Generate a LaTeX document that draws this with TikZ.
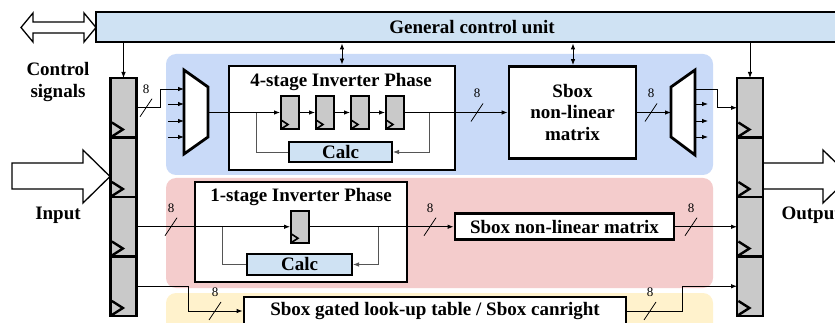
\documentclass[tikz,border=0pt]{standalone}
\usepackage{fontspec}
\setmainfont{Liberation Serif}
\usetikzlibrary{arrows.meta,calc}
\definecolor{gcufill}{HTML}{CFE2F3}
\definecolor{bluebg}{HTML}{C9DAF8}
\definecolor{pinkbg}{HTML}{F4CCCC}
\definecolor{yellowbg}{HTML}{FFF2CC}
\definecolor{reggray}{HTML}{C9C9C9}
\definecolor{fbgray}{HTML}{555555}
\tikzset{
  bigfont/.style={font=\bfseries\fontsize{19}{21.5}\selectfont},
  busfont/.style={font=\fontsize{13}{14}\selectfont},
  blk/.style={draw, line width=2.8pt, fill=white, inner sep=0pt, bigfont},
  muxshape/.style={draw, line width=2.8pt, fill=white, line join=miter},
  regcol/.style={draw, line width=2.8pt, fill=reggray, minimum width=26pt, minimum height=59.5pt, inner sep=0pt, outer sep=0pt},
  sreg/.style={draw, line width=2pt, fill=reggray, minimum width=18pt, minimum height=33pt, inner sep=0pt},
  calcbox/.style={draw, line width=2pt, fill=gcufill, minimum height=20pt, inner sep=0pt, bigfont},
  tip/.style={-{Latex[length=6pt,width=4.5pt]}},
  wire/.style={line width=0.8pt},
  conn/.style={wire, tip},
  fb/.style={line width=0.8pt, draw=fbgray},
  hollow/.style={draw, line width=1.3pt, fill=white, line join=miter},
  clk/.style={line width=2.4pt, line join=miter},
  sclk/.style={line width=1.6pt, line join=miter},
  pics/bus8/.style={code={
    \draw[line width=0.8pt] (-6,9) -- (6,-9);
    \node[busfont] at (0,-19) {8};
  }},
}
\begin{document}
\begin{tikzpicture}[x=1pt,y=-1pt]
\clip (0,0) rectangle (835,323);
\fill[white] (0,0) rectangle (835,323);
% background bands
\fill[bluebg, rounded corners=10pt] (166,54) rectangle (713,175);
\fill[pinkbg, rounded corners=10pt] (166,178) rectangle (713,288);
\fill[yellowbg, rounded corners=10pt] (166,293) rectangle (713,345);

% general control unit
\node[blk, fill=gcufill, minimum width=752pt, minimum height=30pt] (gcu) at (472,27) {General control unit};
\draw[hollow] (21,27.5) -- (33,13) -- (33,22) -- (84,22) -- (84,13) -- (96,27.5) -- (84,42) -- (84,33) -- (33,33) -- (33,42) -- cycle;

% register columns
\foreach \i/\y in {1/107.75,2/167.25,3/226.75,4/286.25}{
  \node[regcol] (L\i) at (123.5,\y) {};
  \node[regcol] (R\i) at (750,\y) {};
}
\foreach \i in {1,...,4}{
  \draw[clk] ($(L\i.south west)+(1.4,-15)$) -- ++(11,7) -- ++(-11,7);
  \draw[clk] ($(R\i.south west)+(1.4,-15)$) -- ++(11,7) -- ++(-11,7);
}
\draw[conn] (gcu.south -| L1.north) -- (L1.north);
\draw[conn] (gcu.south -| R1.north) -- (R1.north);

% input / output arrows and labels
\draw[hollow] (12,163) -- (83,163) -- (83,150) -- (110,176.5) -- (83,203) -- (83,189) -- (12,189) -- cycle;
\draw[hollow] (764,163) -- (823,163) -- (823,150) -- (850,176.5) -- (823,203) -- (823,189) -- (764,189);
\node[bigfont, align=center] (ctl) at (58,82) {Control\\signals};
\node[bigfont] (inlbl) at (58,215) {Input};
\node[bigfont, anchor=west] (outlbl) at (778,215) {Output};

% ===== blue section =====
\draw[muxshape] (184,70) -- (208,87) -- (208,137) -- (184,154) -- cycle;
\coordinate (muxLin1) at (184,89);
\coordinate (muxLout) at (208,112);
\draw[conn] (L1.east) -| (160,89) -- (muxLin1);
\foreach \y in {104,121,137} \draw[conn] (168,\y) -- (184,\y);
\pic at (146,107.75) {bus8};

\node[blk, minimum width=226pt, minimum height=104pt] (ph4) at (342,118) {};
\node[bigfont] (ph4t) at (341,82) {4-stage Inverter Phase};
\foreach \i/\x in {1/290,2/325,3/360,4/395}{
  \node[sreg] (S\i) at (\x,112.5) {};
}
\node[calcbox, minimum width=103pt] (calc1) at (340.5,152) {Calc};
\coordinate (fb1a) at (256,112.5);
\coordinate (fb1b) at (429,112.5);
\draw[fb] (fb1a) |- (calc1.west);
\draw[fb, tip] (fb1b) |- (calc1.east);

\node[blk, minimum width=127pt, minimum height=92pt, align=center] (sbox1) at (572.5,112.5) {Sbox\\non-linear\\matrix};

\draw[conn] (muxLout |- S1.west) -- (S1.west);
\draw[conn] (S1.east) -- (S2.west);
\draw[conn] (S2.east) -- (S3.west);
\draw[conn] (S3.east) -- (S4.west);
\draw[conn] (S4.east) -- (sbox1.west);
\pic at (477,112.5) {bus8};
\foreach \i in {1,...,4}{
  \draw[sclk] ($(S\i.south west)+(1,-10)$) -- ++(7,4.5) -- ++(-7,4.5);
}

\coordinate (b1) at (342,0);
\coordinate (b2) at (573,0);
\draw[wire, {Latex[length=6pt,width=4.5pt]}-{Latex[length=6pt,width=4.5pt]}] (gcu.south -| b1) -- (ph4.north -| b1);
\draw[wire, {Latex[length=6pt,width=4.5pt]}-{Latex[length=6pt,width=4.5pt]}] (gcu.south -| b2) -- (sbox1.north -| b2);

\draw[muxshape] (671,87) -- (695,70) -- (695,155) -- (671,137) -- cycle;
\coordinate (muxRin) at (671,112.5);
\coordinate (muxRout1) at (695,89);
\draw[conn] (sbox1.east) -- (muxRin);
\pic at (651,112.5) {bus8};
\draw[conn] (muxRout1) -| ($(R1.west)+(-20,0)$) -- (R1.west);
\foreach \y in {104,121,137} \draw[conn] (695,\y) -- (708,\y);

% ===== pink section =====
\node[blk, minimum width=212pt, minimum height=100pt] (ph1) at (301,232) {};
\node[bigfont] (ph1t) at (301,197) {1-stage Inverter Phase};
\node[sreg, minimum height=32pt] (T1) at (300,226.75) {};
\draw[sclk] ($(T1.south west)+(1,-10)$) -- ++(7,4.5) -- ++(-7,4.5);
\node[calcbox, minimum width=105pt, minimum height=21pt] (calc2) at (299.5,264.5) {Calc};
\coordinate (fb2a) at (222,226.75);
\coordinate (fb2b) at (378,226.75);
\draw[fb] (fb2a) |- (calc2.west);
\draw[fb, tip] (fb2b) |- (calc2.east);
\node[blk, minimum width=219pt, minimum height=26pt] (psbox) at (564.5,226.75) {Sbox non-linear matrix};
\draw[conn] (L3.east) -- (T1.west);
\pic at (171,226.75) {bus8};
\draw[conn] (T1.east) -- (psbox.west);
\pic at (430,226.75) {bus8};
\draw[conn] (psbox.east) -- (R3.west);
\pic at (691,226.75) {bus8};

% ===== yellow section =====
\node[blk, minimum width=382pt, minimum height=28pt] (gated) at (435,311) {Sbox gated look-up table / Sbox canright};
\draw[conn] (L4.east) -| ($(gated.west)+(-54,0)$) -- (gated.west);
\pic at (215,311) {bus8};
\draw[conn] (gated.east) -| ($(R4.west)+(-55,0)$) -- (R4.west);
\pic at (650,311) {bus8};
\end{tikzpicture}
\end{document}
